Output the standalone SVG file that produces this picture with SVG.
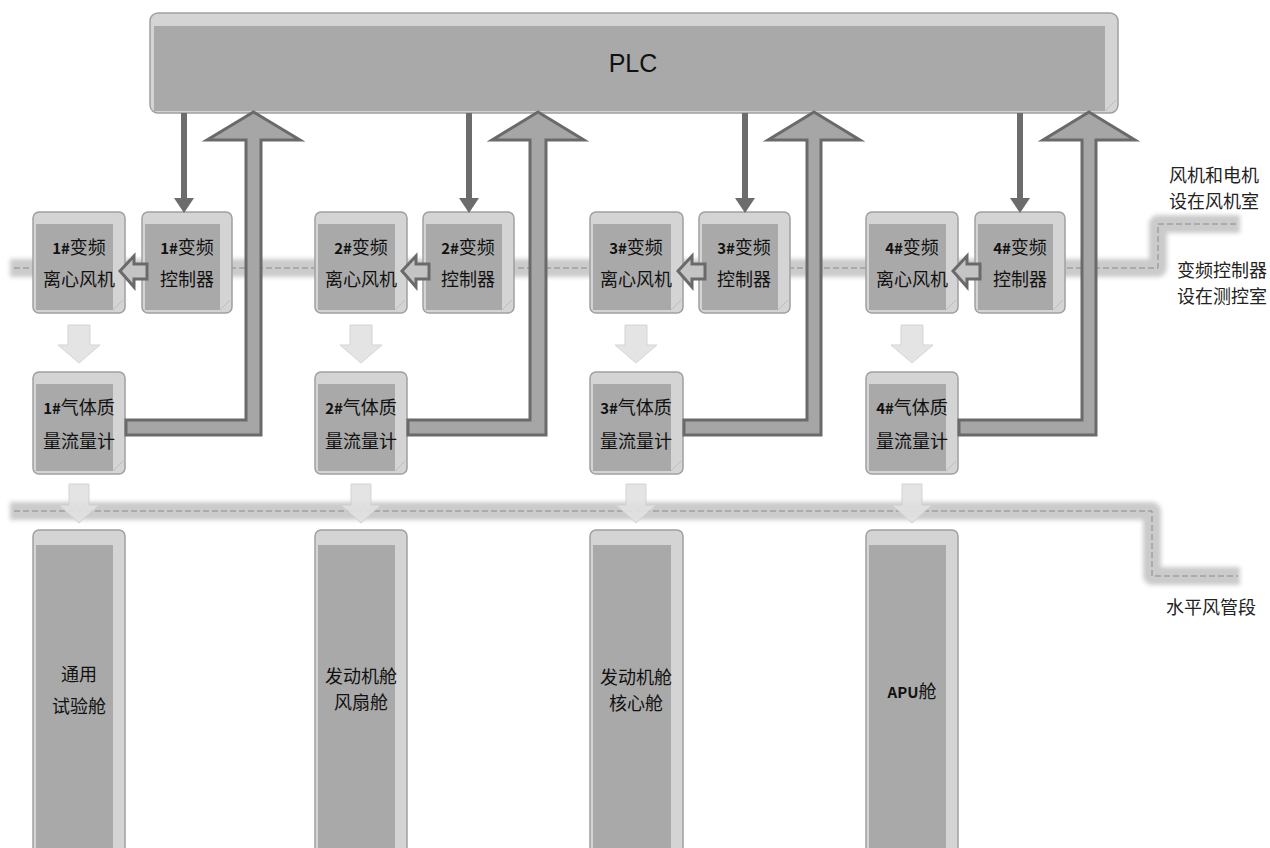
<svg xmlns="http://www.w3.org/2000/svg" width="1270" height="848" viewBox="0 0 1270 848">
<style>
.outer{fill:#d4d4d4;stroke:#a0a0a0;stroke-width:1.5}
.inner{fill:#a9a9a9}
.edge{fill:none;stroke:#bdbdbd;stroke-width:1}
.t{font-family:"Noto Sans CJK SC","Noto Sans",sans-serif;font-size:18px;fill:#111;text-anchor:middle}
.n{font-weight:bold;font-size:15px}
.tr{font-family:"Noto Sans CJK SC","Noto Sans",sans-serif;font-size:18px;fill:#222;text-anchor:end}
.band{fill:none;stroke:#cbcbcb;stroke-width:18;stroke-linejoin:round}
.dash{fill:none;stroke:#8a8a8a;stroke-width:1;stroke-dasharray:6 3}
.up{fill:#a6a6a6;stroke:#6a6a6a;stroke-width:3;stroke-linejoin:miter}
.dn{stroke:#6c6c6c;stroke-width:6}
.dnh{fill:#6c6c6c}
.la{fill:#c4c4c4;stroke:#6a6a6a;stroke-width:3}
.lt{fill:#e2e2e2;stroke:#cfcfcf;stroke-width:1;opacity:0.9}
</style>
<defs>
<filter id="blur" x="-5%" y="-50%" width="110%" height="200%"><feGaussianBlur stdDeviation="2"/></filter>
</defs>

<!-- pipe bands -->
<g id="pipes">
<path class="band" filter="url(#blur)" d="M10,268 H1158 V224 H1240"/>
<path class="dash" d="M14,268 H1158 V224 H1238"/>
<path class="band" filter="url(#blur)" d="M10,511 H1152 V576 H1240"/>
<path class="dash" d="M14,511 H1152 V576 H1238"/>
</g>

<!-- PLC -->
<g id="plc">
<rect class="outer" x="150" y="13" width="968" height="100" rx="8"/>
<path class="inner" d="M154,26 H1105 V111 H154 Z"/>
<line class="edge" x1="1105" y1="111" x2="1116" y2="100"/>
<text x="633" y="72" font-family="Liberation Sans,Arial,sans-serif" font-size="25" fill="#111" text-anchor="middle">PLC</text>
</g>

<!-- row 1: fans and controllers -->
<g id="fan1"><rect class="outer" x="33" y="212" width="92" height="101" rx="6"/><rect class="inner" x="36" y="224" width="77" height="86"/><line class="edge" x1="113" y1="310" x2="123" y2="300"/><text class="t" x="79" y="254"><tspan class="n">1#</tspan>变频</text><text class="t" x="79" y="286">离心风机</text></g>
<g id="ctrl1"><rect class="outer" x="142" y="212" width="90" height="101" rx="6"/><rect class="inner" x="145" y="224" width="75" height="86"/><line class="edge" x1="220" y1="310" x2="230" y2="300"/><text class="t" x="187" y="254"><tspan class="n">1#</tspan>变频</text><text class="t" x="187" y="286">控制器</text></g>

<g id="fan2"><rect class="outer" x="315" y="212" width="92" height="101" rx="6"/><rect class="inner" x="318" y="224" width="77" height="86"/><line class="edge" x1="395" y1="310" x2="405" y2="300"/><text class="t" x="361" y="254"><tspan class="n">2#</tspan>变频</text><text class="t" x="361" y="286">离心风机</text></g>
<g id="ctrl2"><rect class="outer" x="423" y="212" width="91" height="101" rx="6"/><rect class="inner" x="426" y="224" width="76" height="86"/><line class="edge" x1="502" y1="310" x2="512" y2="300"/><text class="t" x="468" y="254"><tspan class="n">2#</tspan>变频</text><text class="t" x="468" y="286">控制器</text></g>

<g id="fan3"><rect class="outer" x="590" y="212" width="93" height="101" rx="6"/><rect class="inner" x="593" y="224" width="78" height="86"/><line class="edge" x1="671" y1="310" x2="681" y2="300"/><text class="t" x="636" y="254"><tspan class="n">3#</tspan>变频</text><text class="t" x="636" y="286">离心风机</text></g>
<g id="ctrl3"><rect class="outer" x="699" y="212" width="91" height="101" rx="6"/><rect class="inner" x="702" y="224" width="76" height="86"/><line class="edge" x1="778" y1="310" x2="788" y2="300"/><text class="t" x="744" y="254"><tspan class="n">3#</tspan>变频</text><text class="t" x="744" y="286">控制器</text></g>

<g id="fan4"><rect class="outer" x="866" y="212" width="92" height="101" rx="6"/><rect class="inner" x="869" y="224" width="77" height="86"/><line class="edge" x1="946" y1="310" x2="956" y2="300"/><text class="t" x="912" y="254"><tspan class="n">4#</tspan>变频</text><text class="t" x="912" y="286">离心风机</text></g>
<g id="ctrl4"><rect class="outer" x="975" y="212" width="90" height="101" rx="6"/><rect class="inner" x="978" y="224" width="75" height="86"/><line class="edge" x1="1053" y1="310" x2="1063" y2="300"/><text class="t" x="1020" y="254"><tspan class="n">4#</tspan>变频</text><text class="t" x="1020" y="286">控制器</text></g>

<!-- row 2: flowmeters -->
<g id="flow1"><rect class="outer" x="33" y="372" width="92" height="102" rx="6"/><rect class="inner" x="36" y="384" width="77" height="87"/><line class="edge" x1="113" y1="471" x2="123" y2="461"/><text class="t" x="79" y="414"><tspan class="n">1#</tspan>气体质</text><text class="t" x="79" y="448">量流量计</text></g>
<g id="flow2"><rect class="outer" x="315" y="372" width="92" height="102" rx="6"/><rect class="inner" x="318" y="384" width="77" height="87"/><line class="edge" x1="395" y1="471" x2="405" y2="461"/><text class="t" x="361" y="414"><tspan class="n">2#</tspan>气体质</text><text class="t" x="361" y="448">量流量计</text></g>
<g id="flow3"><rect class="outer" x="590" y="372" width="93" height="102" rx="6"/><rect class="inner" x="593" y="384" width="78" height="87"/><line class="edge" x1="671" y1="471" x2="681" y2="461"/><text class="t" x="636" y="414"><tspan class="n">3#</tspan>气体质</text><text class="t" x="636" y="448">量流量计</text></g>
<g id="flow4"><rect class="outer" x="866" y="372" width="92" height="102" rx="6"/><rect class="inner" x="869" y="384" width="77" height="87"/><line class="edge" x1="946" y1="471" x2="956" y2="461"/><text class="t" x="912" y="414"><tspan class="n">4#</tspan>气体质</text><text class="t" x="912" y="448">量流量计</text></g>

<!-- row 3: chambers -->
<g id="cab1"><rect class="outer" x="33" y="530" width="92" height="330" rx="6"/><rect class="inner" x="36" y="545" width="77" height="303"/><text class="t" x="79" y="681">通用</text><text class="t" x="79" y="713">试验舱</text></g>
<g id="cab2"><rect class="outer" x="315" y="530" width="92" height="330" rx="6"/><rect class="inner" x="318" y="545" width="77" height="303"/><text class="t" x="361" y="683">发动机舱</text><text class="t" x="361" y="709">风扇舱</text></g>
<g id="cab3"><rect class="outer" x="590" y="530" width="93" height="330" rx="6"/><rect class="inner" x="593" y="545" width="78" height="303"/><text class="t" x="636" y="684">发动机舱</text><text class="t" x="636" y="710">核心舱</text></g>
<g id="cab4"><rect class="outer" x="866" y="530" width="92" height="330" rx="6"/><rect class="inner" x="869" y="545" width="77" height="303"/><text class="t" x="912" y="698"><tspan class="n" font-size="16">APU</tspan>舱</text></g>

<!-- connectors -->
<g id="connectors">
<!-- PLC to controllers -->
<line class="dn" x1="184" y1="113" x2="184" y2="200"/><polygon class="dnh" points="174,198 194,198 184,213"/>
<line class="dn" x1="469" y1="113" x2="469" y2="200"/><polygon class="dnh" points="459,198 479,198 469,213"/>
<line class="dn" x1="745" y1="113" x2="745" y2="200"/><polygon class="dnh" points="735,198 755,198 745,213"/>
<line class="dn" x1="1020" y1="113" x2="1020" y2="200"/><polygon class="dnh" points="1010,198 1030,198 1020,213"/>
<!-- flowmeter to PLC -->
<path class="up" d="M253.5,112 L300,140 L261,140 L261,435 L126,435 L126,420 L246,420 L246,140 L207,140 Z"/>
<path class="up" d="M538,112 L584,140 L546,140 L546,435 L408,435 L408,420 L530,420 L530,140 L492,140 Z"/>
<path class="up" d="M814,112 L860,140 L821,140 L821,435 L684,435 L684,420 L807,420 L807,140 L768,140 Z"/>
<path class="up" d="M1089,112 L1135,140 L1096,140 L1096,435 L959,435 L959,420 L1082,420 L1082,140 L1043,140 Z"/>
<!-- controller to fan -->
<polygon class="la" points="120,271 134,256 134,264 147,264 147,279 134,279 134,287"/>
<polygon class="la" points="402,271 416,256 416,264 429,264 429,279 416,279 416,287"/>
<polygon class="la" points="678,271 692,256 692,264 705,264 705,279 692,279 692,287"/>
<polygon class="la" points="953,271 967,256 967,264 980,264 980,279 967,279 967,287"/>
<!-- fan to flowmeter -->
<polygon class="lt" points="68,325 90,325 90,345 100,345 79,363 58,345 68,345"/>
<polygon class="lt" points="350,325 372,325 372,345 382,345 361,363 340,345 350,345"/>
<polygon class="lt" points="625,325 647,325 647,345 657,345 636,363 615,345 625,345"/>
<polygon class="lt" points="901,325 923,325 923,345 933,345 912,363 891,345 901,345"/>
<!-- flowmeter to chamber -->
<polygon class="lt" points="69,484 89,484 89,505 99,505 79,523 59,505 69,505"/>
<polygon class="lt" points="351,484 371,484 371,505 381,505 361,523 341,505 351,505"/>
<polygon class="lt" points="626,484 646,484 646,505 656,505 636,523 616,505 626,505"/>
<polygon class="lt" points="902,484 922,484 922,505 932,505 912,523 892,505 902,505"/>
</g>

<!-- side labels -->
<g id="labels">
<text class="tr" x="1259" y="182">风机和电机</text>
<text class="tr" x="1259" y="208">设在风机室</text>
<text class="tr" x="1267" y="277">变频控制器</text>
<text class="tr" x="1267" y="303">设在测控室</text>
<text class="tr" x="1256" y="614">水平风管段</text>
</g>
</svg>
